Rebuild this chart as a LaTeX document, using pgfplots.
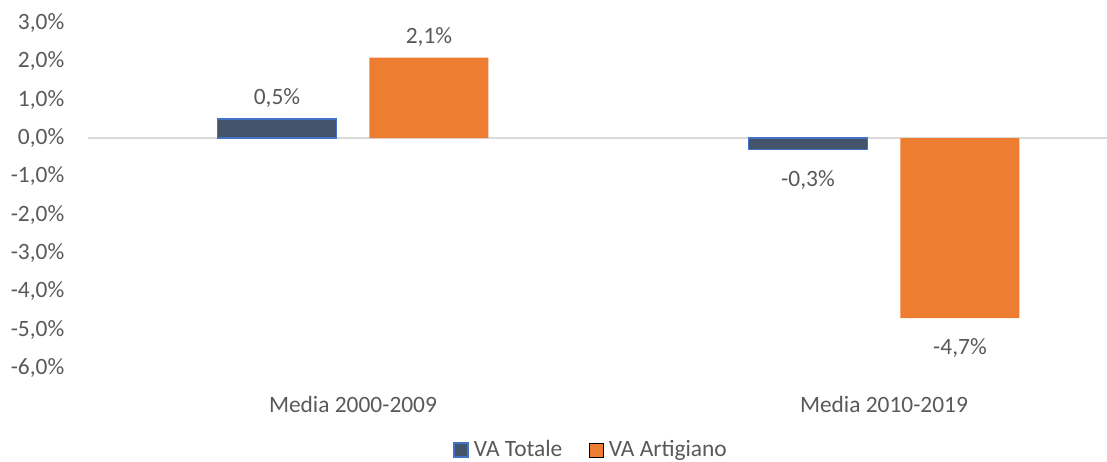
\documentclass[border=0pt]{standalone}
\usepackage{pgfplots}
\pgfplotsset{compat=1.18}
\usepackage{fontspec}
\setmainfont{Carlito}
\definecolor{txt}{HTML}{595959}
\definecolor{totale}{HTML}{44546A}
\definecolor{totaleb}{HTML}{4472C4}
\definecolor{artig}{HTML}{ED7D31}
\definecolor{zl}{HTML}{D9D9D9}
\begin{document}
\fontsize{23.5}{28}\selectfont
\begin{tikzpicture}
\useasboundingbox (0,0) rectangle (1107bp,462bp);
\begin{axis}[
  at={(87.5bp,94bp)}, anchor=south west,
  scale only axis, width=1019.5bp, height=345bp,
  ybar=33bp, bar width=119bp,
  xmin=-0.5, xmax=1.42, ymin=-6, ymax=3,
  axis line style={draw=none},
  xtick={0,1}, xticklabels={Media 2000-2009, Media 2010-2019},
  ytick={-6,-5,-4,-3,-2,-1,0,1,2,3},
  yticklabels={{-6,0\%},{-5,0\%},{-4,0\%},{-3,0\%},{-2,0\%},{-1,0\%},{0,0\%},{1,0\%},{2,0\%},{3,0\%}},
  tick style={draw=none},
  yticklabel style={anchor=east, inner sep=0pt, xshift=-23bp, text=txt},
  xticklabel style={anchor=north, inner sep=0pt, yshift=-24bp, text=txt},
  clip=false,
  point meta=explicit symbolic,
  nodes near coords={\pgfplotspointmeta\%},
  nodes near coords style={text=txt, inner sep=0pt},
  legend style={at={(0.493,-0.238)}, anchor=center, draw=none, legend columns=-1, text=txt,
    nodes={inner sep=0pt},
    /tikz/every odd column/.append style={column sep=5bp},
    /tikz/every even column/.append style={column sep=27bp}},
  legend image code/.code={\draw[#1] (0bp,-7bp) rectangle (14bp,7bp);},
]
\draw[zl, line width=1.3pt] (axis cs:-0.5,0) -- (axis cs:1.42,0);
\addplot[fill=totale, draw=totaleb, line width=1.5pt,
  visualization depends on={y \as \yv},
  every node near coord/.append style={anchor={\ifdim\yv pt<0pt north\else south\fi}, yshift={\ifdim\yv pt<0pt -20bp\else 11bp\fi}}]
  table[meta=lab] {
x y lab
0 0.5 0,5
1 -0.3 -0,3
};
\addplot[fill=artig, draw=none,
  visualization depends on={y \as \yv},
  every node near coord/.append style={anchor={\ifdim\yv pt<0pt north\else south\fi}, yshift={\ifdim\yv pt<0pt -20bp\else 11bp\fi}}]
  table[meta=lab] {
x y lab
0 2.1 2,1
1 -4.7 -4,7
};
\legend{VA Totale, VA Artigiano}
\end{axis}
\end{tikzpicture}
\end{document}
